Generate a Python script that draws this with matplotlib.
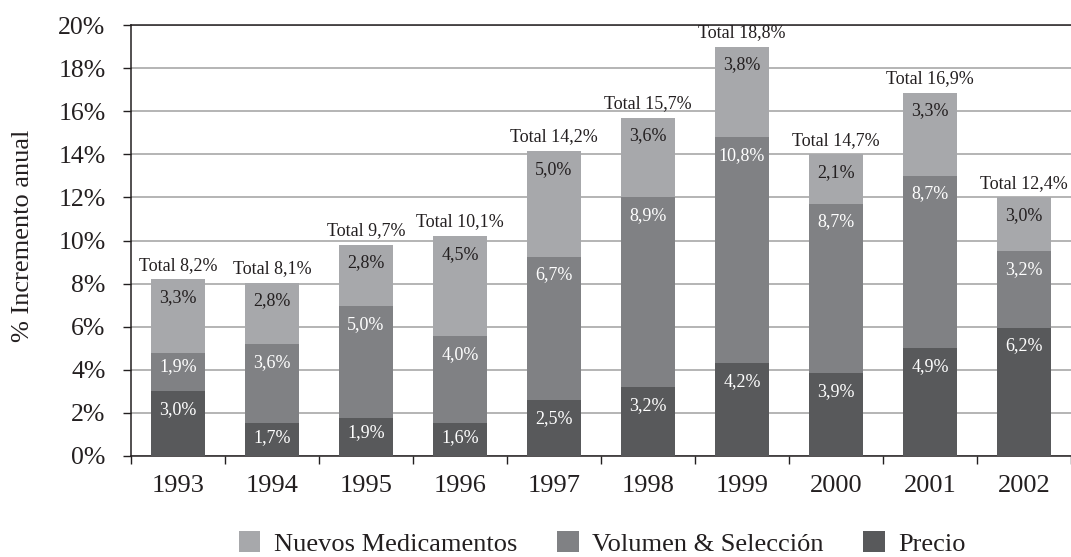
import numpy as np
import matplotlib
matplotlib.use("Agg")
import matplotlib.pyplot as plt
from matplotlib.patches import Patch

plt.rcParams['font.family'] = ['Liberation Serif', 'DejaVu Serif']

# ---- data ----
years = ['1993', '1994', '1995', '1996', '1997', '1998', '1999', '2000', '2001', '2002']
# bar segment heights as drawn in the picture (%)
precio_h = [3.0, 1.55, 1.75, 1.55, 2.6, 3.2, 4.3, 3.85, 5.0, 5.95]
volumen_h = [1.8, 3.65, 5.2, 4.0, 6.65, 8.8, 10.5, 7.85, 8.0, 3.55]
nuevos_h = [3.4, 2.85, 2.85, 4.65, 4.9, 3.7, 4.2, 2.3, 3.85, 2.5]
# printed values (%)
precio_lbl = [3.0, 1.7, 1.9, 1.6, 2.5, 3.2, 4.2, 3.9, 4.9, 6.2]
volumen_lbl = [1.9, 3.6, 5.0, 4.0, 6.7, 8.9, 10.8, 8.7, 8.7, 3.2]
nuevos_lbl = [3.3, 2.8, 2.8, 4.5, 5.0, 3.6, 3.8, 2.1, 3.3, 3.0]
total_lbl = [8.2, 8.1, 9.7, 10.1, 14.2, 15.7, 18.8, 14.7, 16.9, 12.4]
series_names = ['Nuevos Medicamentos', 'Volumen & Selección', 'Precio']
yticks = [0, 2, 4, 6, 8, 10, 12, 14, 16, 18, 20]

c_light = '#a7a8ab'
c_mid = '#808184'
c_dark = '#58595b'
c_text = '#231f20'

def fmt(v):
    return f"{v:.1f}".replace('.', ',') + '%'

fig = plt.figure(figsize=(10.71, 5.57), dpi=100)
W, H = 1071, 557
ax = fig.add_axes([131 / W, 101 / H, (1071 - 131) / W, (456 - 25) / H])

x = np.arange(len(years))
bw = 0.565
p = np.array(precio_h)
v = np.array(volumen_h)
n = np.array(nuevos_h)

ax.bar(x, p, bw, color=c_dark, zorder=3, linewidth=0)
ax.bar(x, v, bw, bottom=p, color=c_mid, zorder=3, linewidth=0)
ax.bar(x, n, bw, bottom=p + v, color=c_light, zorder=3, linewidth=0)

fs_small = 13
for i in range(len(years)):
    segs = [(0, p[i], precio_lbl[i], 'white'),
            (p[i], p[i] + v[i], volumen_lbl[i], 'white'),
            (p[i] + v[i], p[i] + v[i] + n[i], nuevos_lbl[i], c_text)]
    for bot, top, lab, col in segs:
        off = 0.75 if (top - bot) >= 2 else 0.58
        ax.text(x[i], top - off, fmt(lab), ha='center', va='center_baseline',
                fontsize=fs_small, color=col, zorder=4)
    ax.text(x[i], p[i] + v[i] + n[i] + 0.75, 'Total ' + fmt(total_lbl[i]),
            ha='center', va='center_baseline', fontsize=fs_small, color=c_text, zorder=4)

ax.set_xlim(-0.5, len(years) - 0.5)
ax.set_ylim(0, 20)
ax.set_yticks(yticks)
ax.set_yticklabels([f"{t}%" for t in yticks], fontsize=18.5, color=c_text)
ax.set_xticks(x)
ax.set_xticklabels(years, fontsize=19, color=c_text)
ax.set_xticks(np.arange(-0.5, len(years), 1.0), minor=True)
ax.tick_params(axis='x', which='major', length=0, pad=13.5)
ax.tick_params(axis='x', which='minor', length=5.8, width=1.0, direction='out', color='#231f20')
ax.tick_params(axis='y', which='major', length=5.8, width=1.0, direction='out', pad=12.5, color='#231f20')

ax.grid(axis='y', color='#a0a0a0', linewidth=1.1, zorder=0)
ax.set_axisbelow(True)
for s in ['left', 'bottom', 'top']:
    ax.spines[s].set_color('#231f20')
    ax.spines[s].set_linewidth(1.1)
ax.spines['right'].set_visible(False)

fig.text(23 / W, 1 - 236 / H, '% Incremento anual', rotation=90, ha='center', va='center',
         fontsize=19, color=c_text)

handles = [Patch(facecolor=c_light, edgecolor='none'),
           Patch(facecolor=c_mid, edgecolor='none'),
           Patch(facecolor=c_dark, edgecolor='none')]
leg = fig.legend(handles, series_names, loc='lower center', bbox_to_anchor=(602 / W, 1 / H),
                 ncol=3, frameon=False, fontsize=19, handlelength=0.83, handleheight=0.83,
                 handletextpad=0.5, columnspacing=1.5, borderpad=0, borderaxespad=0)
for t in leg.get_texts():
    t.set_color(c_text)

fig.savefig('out.png', dpi=100)
